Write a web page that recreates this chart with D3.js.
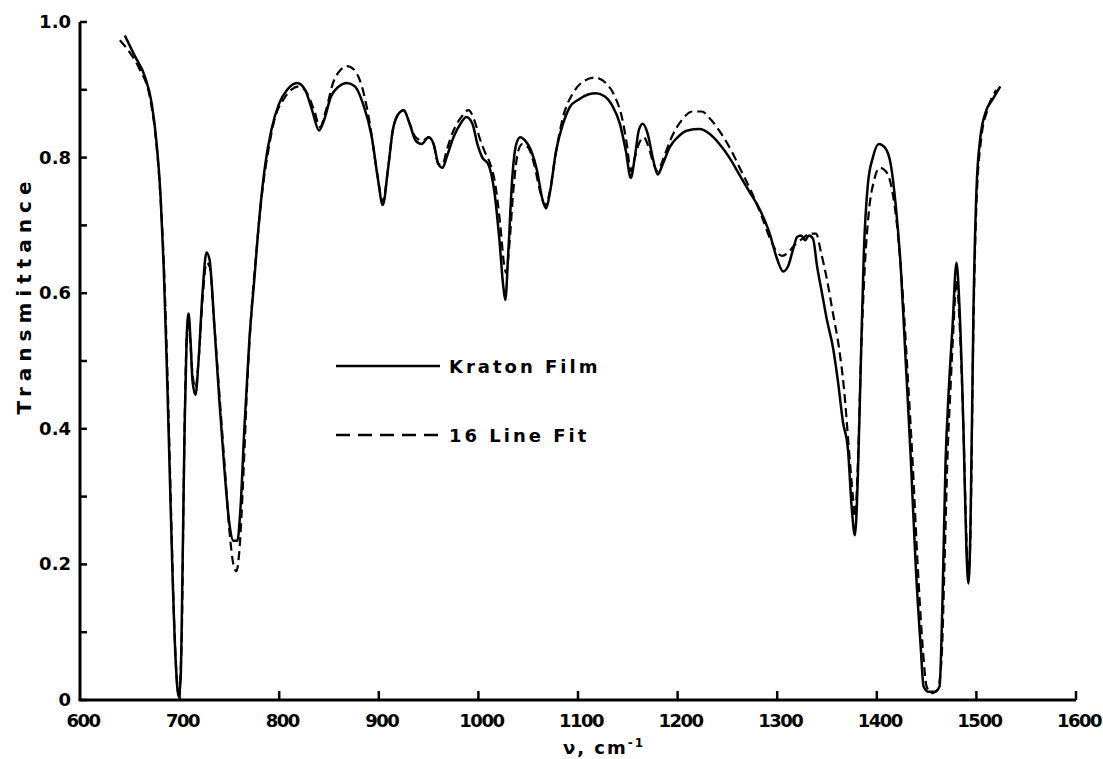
<!DOCTYPE html>
<html>
<head>
<meta charset="utf-8">
<script src="https://cdn.jsdelivr.net/npm/d3@7"></script>
<style>
    body { margin: 0; background: #fff; }
    text { font-family: "DejaVu Sans", sans-serif; font-weight: bold; fill: #000; }
</style>
</head>
<body>
<script>
//wavenumber (cm-1) and transmittance of the measured film
var filmWave = [645,655,665,672,677,681,684,687,690,693,696,699,701,703,705,707,709,711,713,716,719,723,727,730,735,740,745,750,754,758,761,765,770,775,780,786,792,800,808,818,826,833,840,845,852,860,868,876,884,893,899,904,909,914,920,925,931,937,943,950,955,960,964,968,975,982,988,994,999,1004,1010,1016,1021,1025,1027,1030,1034,1038,1042,1047,1053,1059,1064,1068,1072,1078,1085,1092,1100,1110,1118,1127,1135,1142,1148,1153,1157,1161,1165,1170,1175,1180,1185,1192,1200,1210,1222,1232,1242,1252,1262,1272,1282,1292,1300,1306,1311,1316,1320,1324,1328,1332,1336,1340,1345,1350,1356,1361,1366,1371,1375,1378,1381,1384,1387,1391,1396,1402,1408,1414,1419,1424,1429,1434,1439,1444,1447,1452,1458,1463,1466,1469,1472,1476,1480,1483,1487,1490,1492,1494,1497,1500,1504,1510,1516,1524];
var filmT = [0.98,0.95,0.92,0.88,0.82,0.74,0.64,0.50,0.34,0.18,0.06,0.005,0.03,0.20,0.40,0.53,0.57,0.53,0.47,0.45,0.50,0.60,0.66,0.65,0.55,0.44,0.34,0.26,0.235,0.235,0.28,0.40,0.53,0.62,0.71,0.79,0.84,0.88,0.90,0.91,0.90,0.87,0.84,0.855,0.89,0.905,0.91,0.905,0.88,0.83,0.77,0.73,0.78,0.84,0.865,0.87,0.85,0.825,0.82,0.83,0.82,0.79,0.785,0.80,0.83,0.85,0.86,0.85,0.82,0.80,0.79,0.75,0.68,0.61,0.59,0.66,0.77,0.82,0.83,0.825,0.81,0.78,0.74,0.725,0.75,0.81,0.85,0.875,0.885,0.893,0.895,0.89,0.875,0.85,0.81,0.77,0.80,0.84,0.85,0.835,0.80,0.775,0.79,0.815,0.83,0.84,0.842,0.835,0.82,0.80,0.775,0.75,0.725,0.69,0.65,0.632,0.64,0.665,0.683,0.685,0.678,0.685,0.68,0.64,0.60,0.56,0.52,0.47,0.41,0.37,0.28,0.243,0.33,0.50,0.66,0.76,0.80,0.82,0.815,0.79,0.73,0.64,0.50,0.36,0.20,0.08,0.02,0.012,0.012,0.02,0.15,0.35,0.45,0.55,0.645,0.58,0.40,0.22,0.172,0.25,0.57,0.75,0.83,0.87,0.885,0.905];

//wavenumber and transmittance of the 16 line fit
var fitWave = [640,650,660,670,676,680,684,687,690,693,696,699,702,704,706,708,710,713,716,719,723,727,730,735,740,745,750,754,757,760,764,768,772,777,783,789,796,804,812,820,828,835,841,847,854,862,868,875,883,891,898,904,909,914,920,925,931,937,944,950,955,960,964,968,975,983,990,996,1001,1006,1012,1017,1022,1026,1028,1031,1035,1040,1044,1050,1056,1062,1067,1071,1077,1085,1095,1105,1117,1128,1137,1144,1149,1153,1157,1161,1166,1171,1176,1180,1186,1194,1204,1215,1224,1234,1244,1254,1264,1274,1284,1293,1300,1305,1311,1318,1325,1333,1339,1344,1350,1356,1362,1367,1372,1376,1378,1381,1384,1388,1392,1397,1403,1409,1415,1421,1426,1431,1436,1441,1446,1450,1455,1461,1465,1468,1471,1474,1477,1480,1483,1487,1490,1492,1494,1497,1500,1505,1511,1520];
var fitT = [0.973,0.955,0.93,0.89,0.83,0.76,0.65,0.52,0.36,0.19,0.06,0.01,0.08,0.30,0.48,0.55,0.54,0.48,0.46,0.50,0.59,0.645,0.64,0.55,0.45,0.35,0.25,0.20,0.19,0.22,0.33,0.47,0.57,0.66,0.75,0.81,0.86,0.885,0.90,0.905,0.895,0.87,0.845,0.87,0.91,0.93,0.935,0.93,0.905,0.85,0.78,0.735,0.78,0.84,0.865,0.87,0.85,0.83,0.825,0.83,0.82,0.79,0.79,0.81,0.84,0.86,0.87,0.855,0.83,0.81,0.79,0.76,0.70,0.64,0.63,0.67,0.75,0.81,0.82,0.815,0.79,0.75,0.73,0.745,0.80,0.86,0.895,0.912,0.918,0.91,0.89,0.86,0.82,0.78,0.80,0.82,0.83,0.815,0.79,0.78,0.80,0.83,0.855,0.868,0.868,0.855,0.835,0.81,0.78,0.75,0.715,0.68,0.66,0.655,0.66,0.672,0.68,0.688,0.688,0.66,0.62,0.57,0.52,0.46,0.37,0.30,0.27,0.35,0.50,0.64,0.72,0.765,0.785,0.78,0.755,0.69,0.60,0.48,0.35,0.20,0.08,0.02,0.01,0.015,0.06,0.20,0.36,0.46,0.55,0.62,0.56,0.40,0.24,0.18,0.24,0.55,0.73,0.83,0.87,0.90];

var xTicks = [600,700,800,900,1000,1100,1200,1300,1400,1500,1600];
var yMajor = [0,0.2,0.4,0.6,0.8,1.0];
var yMinor = [0.1,0.3,0.5,0.7,0.9];
var yLabels = ["0","0.2","0.4","0.6","0.8","1.0"];

var legendNames = ["Kraton Film","16 Line Fit"];

window.onload = function(){

    var w = 1103, h = 759;

    var svg = d3.select("body")
        .append("svg")
        .attr("width", w)
        .attr("height", h);

    //scales, pixel ranges
    var x = d3.scaleLinear()
        .domain([600, 1600])
        .range([80, 1076]);

    var y = d3.scaleLinear()
        .domain([0, 1])
        .range([700, 22]);

    //axis lines
    svg.append("line")
        .attr("x1", x(600)).attr("x2", x(600))
        .attr("y1", y(1)).attr("y2", y(0))
        .style("stroke", "#000").style("stroke-width", 3);

    svg.append("line")
        .attr("x1", x(600) - 1.5).attr("x2", x(1600))
        .attr("y1", y(0)).attr("y2", y(0))
        .style("stroke", "#000").style("stroke-width", 3);

    //y ticks point inward
    svg.selectAll(".ytick")
        .data(yMajor.concat(yMinor))
        .enter()
        .append("line")
        .attr("class", "ytick")
        .attr("x1", x(600)).attr("x2", x(600) + 7)
        .attr("y1", function(d){ return y(d); })
        .attr("y2", function(d){ return y(d); })
        .style("stroke", "#000").style("stroke-width", 2.5);

    svg.selectAll(".ylab")
        .data(yMajor)
        .enter()
        .append("text")
        .attr("class", "ylab")
        .attr("x", 71)
        .attr("y", function(d){ return y(d) + 6; })
        .attr("text-anchor", "end")
        .style("font-size", "18px")
        .text(function(d, i){ return yLabels[i]; });

    //x ticks point up
    svg.selectAll(".xtick")
        .data(xTicks.slice(1))
        .enter()
        .append("line")
        .attr("class", "xtick")
        .attr("x1", function(d){ return x(d); })
        .attr("x2", function(d){ return x(d); })
        .attr("y1", y(0)).attr("y2", y(0) - 9)
        .style("stroke", "#000").style("stroke-width", 2.5);

    svg.selectAll(".xlab")
        .data(xTicks)
        .enter()
        .append("text")
        .attr("class", "xlab")
        .attr("x", function(d){ return x(d) + 3; })
        .attr("y", 727)
        .attr("text-anchor", "middle")
        .style("font-size", "18px")
        .style("letter-spacing", "-1.5px")
        .text(function(d){ return d; });

    //axis titles
    svg.append("text")
        .attr("transform", "translate(31,295) rotate(-90)")
        .attr("text-anchor", "middle")
        .style("font-size", "20px")
        .style("letter-spacing", "6px")
        .text("Transmittance");

    var xTitle = svg.append("text")
        .attr("x", 604)
        .attr("y", 754)
        .attr("text-anchor", "middle")
        .style("font-size", "18px")
        .style("letter-spacing", "2px");
    xTitle.append("tspan").text("ν, cm");
    xTitle.append("tspan").attr("dy", -7).style("font-size", "12px").text("-1");

    //the two spectra
    var line = d3.line()
        .x(function(d){ return x(d[0]); })
        .y(function(d){ return y(d[1]); })
        .curve(d3.curveMonotoneX);

    var film = d3.zip(filmWave, filmT);
    var fit = d3.zip(fitWave, fitT);

    svg.append("path")
        .datum(fit)
        .attr("d", line)
        .style("fill", "none")
        .style("stroke", "#000")
        .style("stroke-width", 2.2)
        .style("stroke-dasharray", "9,5");

    svg.append("path")
        .datum(film)
        .attr("d", line)
        .style("fill", "none")
        .style("stroke", "#000")
        .style("stroke-width", 2.5);

    //legend
    var legend = svg.selectAll(".legend")
        .data(legendNames)
        .enter()
        .append("g")
        .attr("class", "legend")
        .attr("transform", function(d, i){ return "translate(336," + (366 + i * 69) + ")"; });

    legend.append("line")
        .attr("x1", 0).attr("x2", 104)
        .attr("y1", 0).attr("y2", 0)
        .style("stroke", "#000")
        .style("stroke-width", 2.5)
        .style("stroke-dasharray", function(d, i){ return i == 1 ? "14,8" : null; });

    legend.append("text")
        .attr("x", 113)
        .attr("y", 7)
        .style("font-size", "18px")
        .style("letter-spacing", "3px")
        .text(function(d){ return d; });
};
</script>
</body>
</html>
